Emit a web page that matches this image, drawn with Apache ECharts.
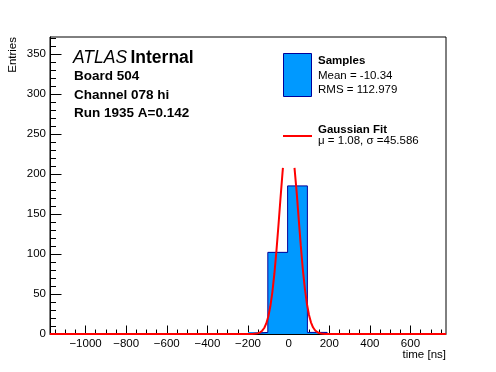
<!DOCTYPE html>
<html>
<head>
<meta charset="utf-8">
<script src="https://cdn.jsdelivr.net/npm/echarts@6/dist/echarts.min.js"></script>
<style>
html,body{margin:0;padding:0;background:#fff;}
#chart{width:496px;height:372px;}
</style>
</head>
<body>
<div id="chart"></div>
<script>
// ---- data ----
const binEdges = [-200, -102.5, -5, 92.5, 190];
const binCounts = [2, 102, 185, 2];
const fitX = [-1175, -200, -180, -160, -150, -140, -130, -120, -110, -100, -90, -80, -70, -60, -50, -40, -30, -28, null,
              29, 40, 50, 60, 70, 80, 90, 100, 110, 120, 130, 140, 150, 160, 180, 200, 775];
const fitY = [0, 0, 0.1, 0.5, 1.1, 2.1, 4.1, 7.5, 13.2, 21.8, 34.6, 52.4, 75.6, 103.8, 135.9, 169.6, 201.6, 207.5, null,
              207.5, 176, 142.6, 110, 80.8, 56.7, 37.8, 24.1, 14.6, 8.4, 4.6, 2.5, 1.2, 0.6, 0.1, 0, 0];
const xTicks = [-1000, -800, -600, -400, -200, 0, 200, 400, 600];
const yTicks = [0, 50, 100, 150, 200, 250, 300, 350];
const xRange = [-1175, 775];
const yRange = [0, 371];
const legendTexts = ['Samples', 'Mean = -10.34', 'RMS = 112.979', 'Gaussian Fit', '\u03bc = 1.08, \u03c3 =45.586'];
const infoTexts = ['Board 504', 'Channel 078 hi', 'Run 1935 A=0.142'];

const FONT = '"Liberation Sans", Arial, Helvetica, sans-serif';

// build derived arrays
const histData = binCounts.map((c, i) => [binEdges[i], binEdges[i + 1], c]);
const outline = [[binEdges[0], 0]];
binCounts.forEach((c, i) => { outline.push([binEdges[i], c]); outline.push([binEdges[i + 1], c]); });
outline.push([binEdges[binEdges.length - 1], 0]);
const fitData = fitX.map((x, i) => (x === null ? '-' : [x, fitY[i]]));

const xMinor = [];
for (let v = -1150; v <= 775; v += 50) xMinor.push(v);
const yMinor = [];
for (let v = 0; v <= 370; v += 10) yMinor.push(v);

const minus = v => String(v).replace('-', '\u2212');

const chart = echarts.init(document.getElementById('chart'), null, {renderer: 'canvas'});
const option = {
  animation: false,
  backgroundColor: '#fff',
  grid: {left: 50, right: 50, top: 37, bottom: 38, show: true, borderColor: '#000', borderWidth: 1, backgroundColor: 'transparent'},
  xAxis: [{
    type: 'value', min: xRange[0], max: xRange[1], position: 'bottom',
    axisLine: {show: true, onZero: false, lineStyle: {color: '#000', width: 1}},
    axisTick: {show: true, inside: true, length: 8.5, customValues: xTicks, lineStyle: {color: '#000'}},
    axisLabel: {show: true, customValues: xTicks, formatter: minus, color: '#000', fontSize: 11.5, fontFamily: FONT, margin: 4},
    splitLine: {show: false}
  }, {
    type: 'value', min: xRange[0], max: xRange[1], position: 'bottom',
    axisLine: {show: false, onZero: false},
    axisTick: {show: true, inside: true, length: 4.5, customValues: xMinor, lineStyle: {color: '#000'}},
    axisLabel: {show: false},
    splitLine: {show: false}
  }],
  yAxis: [{
    type: 'value', min: yRange[0], max: yRange[1], position: 'left',
    axisLine: {show: true, onZero: false, lineStyle: {color: '#000', width: 1}},
    axisTick: {show: true, inside: true, length: 11.5, customValues: yTicks, lineStyle: {color: '#000'}},
    axisLabel: {show: true, customValues: yTicks, color: '#000', fontSize: 11.5, fontFamily: FONT, margin: 4},
    splitLine: {show: false}
  }, {
    type: 'value', min: yRange[0], max: yRange[1], position: 'left',
    axisLine: {show: false, onZero: false},
    axisTick: {show: true, inside: true, length: 6, customValues: yMinor, lineStyle: {color: '#000', width: 1}},
    axisLabel: {show: false},
    splitLine: {show: false}
  }],
  series: [{
    name: 'Samples', type: 'custom', xAxisIndex: 0, yAxisIndex: 0,
    renderItem: function (params, api) {
      const p0 = api.coord([api.value(0), 0]);
      const p1 = api.coord([api.value(1), api.value(2)]);
      const x0 = Math.round(p0[0]), x1 = Math.round(p1[0]);
      const yb = Math.round(p0[1]), yt = Math.round(p1[1]);
      return {type: 'rect', shape: {x: x0, y: yt, width: x1 - x0, height: yb - yt},
              style: {fill: '#0099ff', stroke: null}};
    },
    data: histData
  }, {
    name: 'Samples outline', type: 'line', xAxisIndex: 0, yAxisIndex: 0, data: outline,
    symbol: 'none', lineStyle: {color: '#000099', width: 1}, z: 3
  }, {
    name: 'Gaussian Fit', type: 'line', xAxisIndex: 0, yAxisIndex: 0, data: fitData,
    symbol: 'none', connectNulls: false, clip: false, smooth: false,
    lineStyle: {color: '#ff0000', width: 2}, z: 4
  }],
  graphic: [
    {type: 'text', x: 12.5, y: 37, rotation: Math.PI / 2,
     style: {text: 'Entries', font: '11.5px ' + FONT, fill: '#000', align: 'right', verticalAlign: 'middle'}},
    {type: 'text', x: 446, y: 355,
     style: {text: 'time [ns]', font: '11.5px ' + FONT, fill: '#000', align: 'right', verticalAlign: 'middle'}},
    {type: 'text', x: 73, y: 58.5,
     style: {text: '{a|ATLAS} {b|Internal}', verticalAlign: 'middle', align: 'left',
       rich: {a: {fontStyle: 'italic', fontSize: 17.5, fontFamily: FONT, color: '#000'},
              b: {fontWeight: 'bold', fontSize: 17.5, fontFamily: FONT, color: '#000'}}}},
    {type: 'text', x: 74, y: 76, style: {text: infoTexts[0], font: 'bold 13.5px ' + FONT, fill: '#000', verticalAlign: 'middle'}},
    {type: 'text', x: 74, y: 95, style: {text: infoTexts[1], font: 'bold 13.5px ' + FONT, fill: '#000', verticalAlign: 'middle'}},
    {type: 'text', x: 74, y: 113.5, style: {text: infoTexts[2], font: 'bold 13.5px ' + FONT, fill: '#000', verticalAlign: 'middle'}},
    {type: 'rect', shape: {x: 283.5, y: 53.5, width: 28, height: 43}, style: {fill: '#0099ff', stroke: '#000099', lineWidth: 1}},
    {type: 'line', shape: {x1: 283, y1: 136, x2: 312, y2: 136}, style: {stroke: '#ff0000', lineWidth: 2}},
    {type: 'text', x: 318, y: 61, style: {text: legendTexts[0], font: 'bold 11.5px ' + FONT, fill: '#000', verticalAlign: 'middle'}},
    {type: 'text', x: 318, y: 76, style: {text: legendTexts[1], font: '11.5px ' + FONT, fill: '#000', verticalAlign: 'middle'}},
    {type: 'text', x: 318, y: 90, style: {text: legendTexts[2], font: '11.5px ' + FONT, fill: '#000', verticalAlign: 'middle'}},
    {type: 'text', x: 318, y: 129.5, style: {text: legendTexts[3], font: 'bold 11.5px ' + FONT, fill: '#000', verticalAlign: 'middle'}},
    {type: 'text', x: 318, y: 141, style: {text: legendTexts[4], font: '11.5px ' + FONT, fill: '#000', verticalAlign: 'middle'}}
  ]
};
chart.setOption(option);
</script>
</body>
</html>
